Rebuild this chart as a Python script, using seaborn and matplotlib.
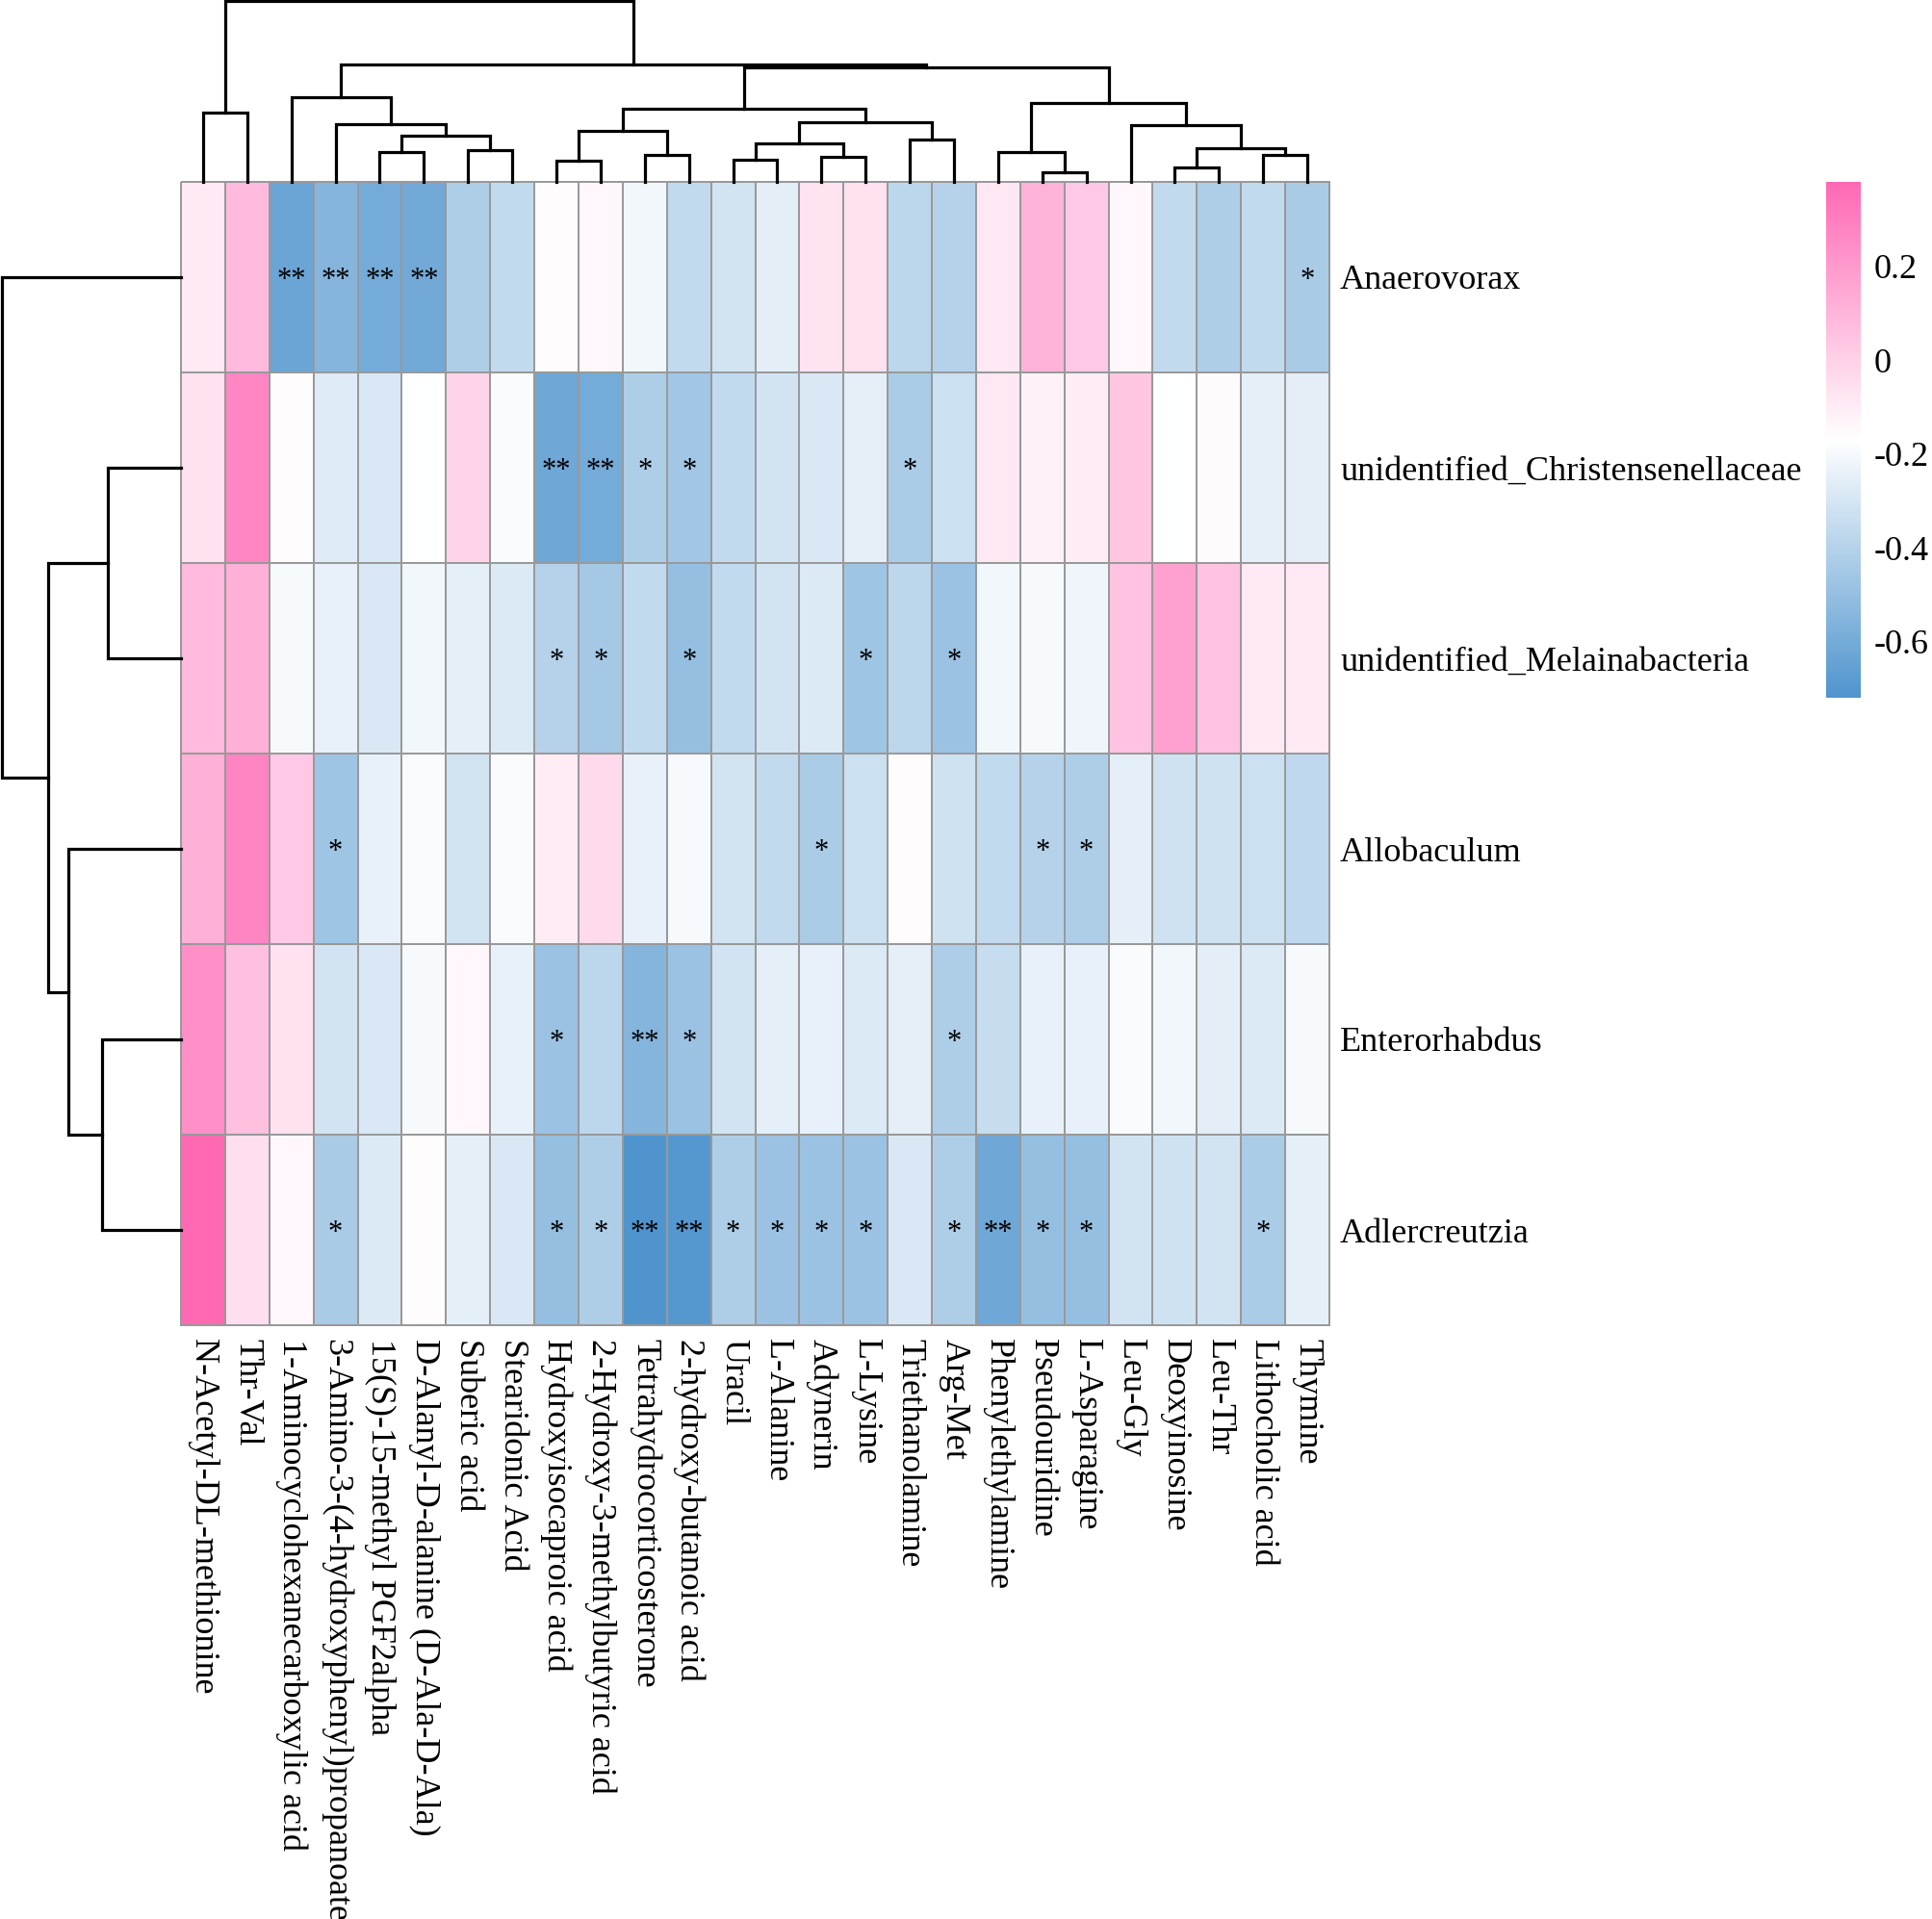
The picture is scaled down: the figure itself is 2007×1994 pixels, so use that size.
import numpy as np
import pandas as pd
import matplotlib
matplotlib.use("Agg")
import matplotlib.pyplot as plt
import seaborn as sns
from matplotlib.colors import LinearSegmentedColormap

# ---------------- data ----------------
metabolites = [
    "N-Acetyl-DL-methionine", "Thr-Val", "1-Aminocyclohexanecarboxylic acid",
    "3-Amino-3-(4-hydroxyphenyl)propanoate", "15(S)-15-methyl PGF2alpha",
    "D-Alanyl-D-alanine (D-Ala-D-Ala)", "Suberic acid", "Stearidonic Acid",
    "Hydroxyisocaproic acid", "2-Hydroxy-3-methylbutyric acid", "Tetrahydrocorticosterone",
    "2-hydroxy-butanoic acid", "Uracil", "L-Alanine", "Adynerin", "L-Lysine",
    "Triethanolamine", "Arg-Met", "Phenylethylamine", "Pseudouridine", "L-Asparagine",
    "Leu-Gly", "Deoxyinosine", "Leu-Thr", "Lithocholic acid", "Thymine",
]

genera = [
    "Anaerovorax", "unidentified_Christensenellaceae", "unidentified_Melainabacteria",
    "Allobaculum", "Enterorhabdus", "Adlercreutzia",
]

anaerovorax = [-0.09, 0.08, -0.63, -0.55, -0.60, -0.61, -0.42, -0.36, -0.16, -0.14, -0.21, -0.36, -0.31,
               -0.26, -0.07, -0.06, -0.38, -0.40, -0.08, 0.11, 0.03, -0.14, -0.36, -0.42, -0.36, -0.44]
christensenellaceae = [-0.06, 0.27, -0.16, -0.27, -0.29, -0.17, -0.01, -0.19, -0.62, -0.60, -0.42, -0.46, -0.36,
                       -0.31, -0.29, -0.25, -0.43, -0.33, -0.08, -0.12, -0.10, 0.04, -0.17, -0.15, -0.25, -0.26]
melainabacteria = [0.08, 0.12, -0.20, -0.24, -0.29, -0.21, -0.25, -0.28, -0.40, -0.45, -0.36, -0.50, -0.36,
                   -0.31, -0.28, -0.47, -0.38, -0.48, -0.21, -0.20, -0.22, 0.05, 0.17, 0.05, -0.09, -0.09]
allobaculum = [0.12, 0.28, 0.03, -0.47, -0.24, -0.19, -0.31, -0.19, -0.10, -0.03, -0.24, -0.20, -0.31,
               -0.36, -0.43, -0.33, -0.16, -0.32, -0.36, -0.40, -0.42, -0.25, -0.32, -0.32, -0.33, -0.37]
enterorhabdus = [0.24, 0.06, -0.06, -0.31, -0.29, -0.20, -0.14, -0.24, -0.48, -0.38, -0.55, -0.48, -0.31,
                 -0.25, -0.24, -0.28, -0.25, -0.42, -0.35, -0.24, -0.24, -0.19, -0.21, -0.26, -0.28, -0.20]
adlercreutzia = [0.38, -0.05, -0.14, -0.44, -0.28, -0.16, -0.25, -0.29, -0.50, -0.42, -0.72, -0.70, -0.42,
                 -0.48, -0.48, -0.48, -0.29, -0.42, -0.62, -0.50, -0.50, -0.31, -0.32, -0.31, -0.43, -0.25]

sig_anaerovorax = ["", "", "**", "**", "**", "**", "", "", "", "", "", "", "", "", "", "", "", "", "", "", "", "", "", "", "", "*"]
sig_christensenellaceae = ["", "", "", "", "", "", "", "", "**", "**", "*", "*", "", "", "", "", "*", "", "", "", "", "", "", "", "", ""]
sig_melainabacteria = ["", "", "", "", "", "", "", "", "*", "*", "", "*", "", "", "", "*", "", "*", "", "", "", "", "", "", "", ""]
sig_allobaculum = ["", "", "", "*", "", "", "", "", "", "", "", "", "", "", "*", "", "", "", "", "*", "*", "", "", "", "", ""]
sig_enterorhabdus = ["", "", "", "", "", "", "", "", "*", "", "**", "*", "", "", "", "", "", "*", "", "", "", "", "", "", "", ""]
sig_adlercreutzia = ["", "", "", "*", "", "", "", "", "*", "*", "**", "**", "*", "*", "*", "*", "", "*", "**", "*", "*", "", "", "", "*", ""]

# dendrogram structures: (left, right, merge height); ints are leaf positions
col_tree = ((0, 1, 72),
            ((2, (3, ((4, 5, 31), (6, 7, 33), 48), 60), 88),
             ((((8, 9, 22), (10, 11, 28), 53),
               (((12, 13, 23), (14, 15, 26), 40), (16, 17, 44), 62), 76),
              ((18, (19, 20, 10), 31), (21, ((22, 23, 15), (24, 25, 28), 35), 59), 82), 119),
             122),
            188)
row_tree = (0, ((1, 2, 76), (3, (4, 5, 82), 117), 138), 186)

cbar_ticks = [-0.6, -0.4, -0.2, 0, 0.2]
cbar_ticklabels = ["-0.6", "-0.4", "-0.2", "0", "0.2"]

# ---------------- build ----------------
values = pd.DataFrame([anaerovorax, christensenellaceae, melainabacteria,
                       allobaculum, enterorhabdus, adlercreutzia],
                      index=genera, columns=metabolites)
stars = pd.DataFrame([sig_anaerovorax, sig_christensenellaceae, sig_melainabacteria,
                      sig_allobaculum, sig_enterorhabdus, sig_adlercreutzia],
                     index=genera, columns=metabolites)

plt.rcParams["font.family"] = ["Liberation Serif", "DejaVu Serif"]
plt.rcParams["axes.unicode_minus"] = False

cmap = LinearSegmentedColormap.from_list("bwp", ["#4F94CD", "#FFFFFF", "#FF69B4"], N=256)

W, H = 2008, 1994
fig = plt.figure(figsize=(W / 100, H / 100), dpi=100)

def fx(px):
    return px / W

def fy(px):
    return 1 - px / H

hm_l, hm_r, hm_t, hm_b = 188, 1381, 189, 1377
ax = fig.add_axes([fx(hm_l), fy(hm_b), fx(hm_r - hm_l), (hm_b - hm_t) / H])
cax = fig.add_axes([fx(1897), fy(725), fx(1933 - 1897), (725 - 189) / H])
axt = fig.add_axes([fx(hm_l), fy(hm_t), fx(hm_r - hm_l), (hm_t - 1) / H])
axl = fig.add_axes([fx(2), fy(hm_b), fx(hm_l - 2), (hm_b - hm_t) / H])

sns.heatmap(values, ax=ax, cmap=cmap, vmin=values.values.min(), vmax=values.values.max(),
            linewidths=1.3, linecolor="#999999",
            annot=stars, fmt="", annot_kws=dict(fontsize=22, color="black"),
            cbar_ax=cax)
ax.collections[0].set_clip_on(False)

# asterisk glyph sits high in the em box: nudge down slightly
for t in ax.texts:
    x, y = t.get_position()
    t.set_position((x, y + 0.02))

ax.yaxis.tick_right()
ax.set_yticks(np.arange(len(genera)) + 0.5)
ax.set_yticklabels(genera, rotation=0, fontsize=26, ha="left", va="center_baseline")
ax.set_xticks(np.arange(len(metabolites)) + 0.5)
ax.set_xticklabels(metabolites, rotation=270, fontsize=26, ha="center", va="top")
ax.tick_params(axis="both", length=0)
ax.tick_params(axis="x", pad=10)
ax.tick_params(axis="y", pad=8)
ax.set_xlabel("")
ax.set_ylabel("")

cbar = ax.collections[0].colorbar
cbar.outline.set_visible(False)
cbar.set_ticks(cbar_ticks)
cbar.set_ticklabels(cbar_ticklabels)
cbar.ax.tick_params(length=0, labelsize=26, pad=10)

# ---------------- dendrograms ----------------
LW = 2.3

def draw(node, a, top):
    if isinstance(node, int):
        return node + 0.5, 0.0
    left, right, h = node
    lp, lh = draw(left, a, top)
    rp, rh = draw(right, a, top)
    if top:
        a.plot([lp, lp, rp, rp], [lh, h, h, rh], color="black", lw=LW,
               solid_joinstyle="miter", clip_on=False)
    else:
        a.plot([lh, h, h, rh], [lp, lp, rp, rp], color="black", lw=LW,
               solid_joinstyle="miter", clip_on=False)
    return (lp + rp) / 2, h

draw(col_tree, axt, True)
axt.set_xlim(0, len(metabolites))
axt.set_ylim(0, col_tree[2])
axt.axis("off")

draw(row_tree, axl, False)
axl.set_ylim(len(genera), 0)
axl.set_xlim(row_tree[2], 0)
axl.axis("off")

fig.savefig("out.png", dpi=100, facecolor="white")
